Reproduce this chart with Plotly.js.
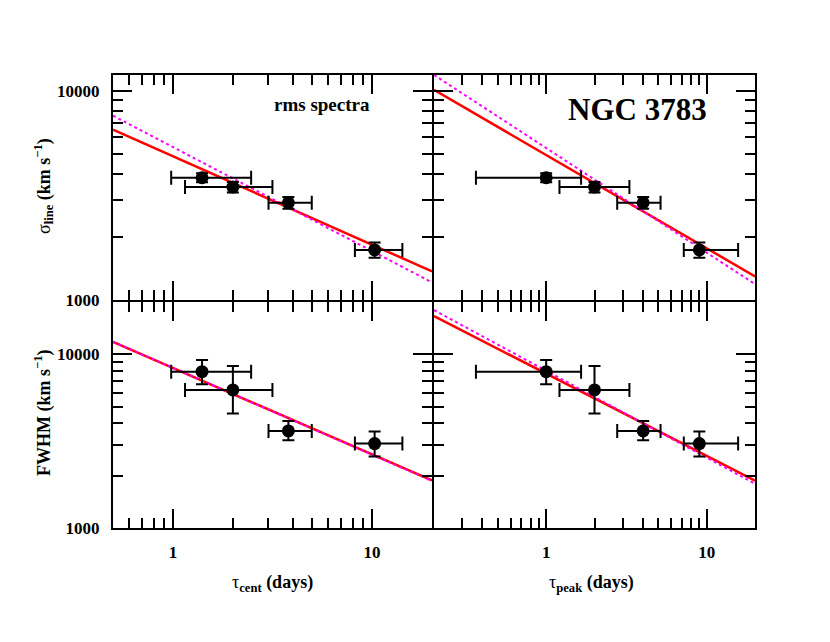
<!DOCTYPE html>
<html>
<head>
<meta charset="utf-8">
<script src="https://cdn.plot.ly/plotly-3.0.1.min.js"></script>
<style>html,body{margin:0;padding:0;background:#fff;}#chart{width:830px;height:642px;}</style>
</head>
<body>
<div id="chart"></div>
<script>
// ---- data ----
const tauCent      = [1.40, 2.00, 3.80, 10.3];
const tauCentErrLo = [0.42, 0.85, 0.78, 2.1];
const tauCentErrHi = [1.07, 1.16, 1.18, 3.9];
const tauPeak      = [1.00, 2.00, 4.02, 9.0];
const tauPeakErrLo = [0.635, 0.79, 1.25, 1.8];
const tauPeakErrHi = [0.65, 1.30, 1.14, 6.7];
const sigmaLine    = [3840, 3465, 2917, 1736];
const sigmaErr     = [190, 200, 190, 145];
const fwhm         = [7943, 6237, 3622, 3062];
const fwhmErrHi    = [1330, 2330, 515, 530];
const fwhmErrLo    = [1220, 1680, 418, 483];

// fit lines (endpoints at axis limits)
const fitXCent = [0.5, 20];
const fitXPeak = [0.2, 20];
const sigCentFit      = [6516, 1370];
const sigCentVirial   = [7600, 1214];
const sigPeakFit      = [10100, 1297];
const sigPeakVirial   = [11910, 1191];
const fwhmCentFit     = [11770, 1880];
const fwhmCentVirial  = [11800, 1866];
const fwhmPeakFit     = [16600, 1871];
const fwhmPeakVirial  = [17970, 1797];

// tick values
const xMajor = [1, 10];
const xMinor = [0.2,0.3,0.4,0.5,0.6,0.7,0.8,0.9,2,3,4,5,6,7,8,9,20];
const yMajor = [1000, 10000];
const yMinor = [2000,3000,4000,5000,6000,7000,8000,9000,20000];
const xTickText = ['1', '10'];
const yTickText = ['1000', '10000'];

const FONT = 'Liberation Serif, Times New Roman, serif';

function pts(x, xlo, xhi, y, ylo, yhi, xa, ya) {
  return {
    x: x, y: y, xaxis: xa, yaxis: ya, type: 'scatter', mode: 'markers',
    marker: {color: 'black', size: 13},
    error_x: {type: 'data', array: xhi, arrayminus: xlo, color: 'black', thickness: 2, width: 7},
    error_y: {type: 'data', array: yhi, arrayminus: ylo, color: 'black', thickness: 2, width: 6},
    showlegend: false, hoverinfo: 'skip'
  };
}
function line(x, y, xa, ya, color, dash, w) {
  return {x: x, y: y, xaxis: xa, yaxis: ya, type: 'scatter', mode: 'lines',
    line: {color: color, dash: dash, width: w}, showlegend: false, hoverinfo: 'skip'};
}

const data = [
  line(fitXCent, sigCentFit, 'x', 'y', '#ff0000', 'solid', 2.5),
  line(fitXCent, sigCentVirial, 'x', 'y', '#ff00ff', 'dot', 2),
  pts(tauCent, tauCentErrLo, tauCentErrHi, sigmaLine, sigmaErr, sigmaErr, 'x', 'y'),

  line(fitXPeak, sigPeakFit, 'x2', 'y2', '#ff0000', 'solid', 2.5),
  line(fitXPeak, sigPeakVirial, 'x2', 'y2', '#ff00ff', 'dot', 2),
  pts(tauPeak, tauPeakErrLo, tauPeakErrHi, sigmaLine, sigmaErr, sigmaErr, 'x2', 'y2'),

  line(fitXCent, fwhmCentFit, 'x3', 'y3', '#ff0000', 'solid', 2.5),
  line(fitXCent, fwhmCentVirial, 'x3', 'y3', '#ff00ff', 'dot', 2),
  pts(tauCent, tauCentErrLo, tauCentErrHi, fwhm, fwhmErrLo, fwhmErrHi, 'x3', 'y3'),

  line(fitXPeak, fwhmPeakFit, 'x4', 'y4', '#ff0000', 'solid', 2.5),
  line(fitXPeak, fwhmPeakVirial, 'x4', 'y4', '#ff00ff', 'dot', 2),
  pts(tauPeak, tauPeakErrLo, tauPeakErrHi, fwhm, fwhmErrLo, fwhmErrHi, 'x4', 'y4')
];

const tickFont = {family: FONT, size: 17, color: 'black', weight: 'bold'};

function xax(domain, lo, hi, anchor, labels) {
  return {
    type: 'log', domain: domain, range: [Math.log10(lo), Math.log10(hi)], anchor: anchor,
    showline: true, linecolor: 'black', linewidth: 2, mirror: 'ticks',
    ticks: 'inside', ticklen: 19, tickwidth: 2, tickcolor: 'black',
    tickmode: 'array', tickvals: xMajor, ticktext: xTickText,
    showticklabels: labels, tickfont: tickFont, ticklabelstandoff: 8,
    minor: {tickmode: 'array', tickvals: xMinor, ticks: 'inside', ticklen: 10, tickwidth: 2, tickcolor: 'black', showgrid: false},
    showgrid: false, zeroline: false, fixedrange: true
  };
}
function yax(domain, lo, hi, anchor, labels) {
  return {
    type: 'log', domain: domain, range: [Math.log10(lo), Math.log10(hi)], anchor: anchor,
    showline: true, linecolor: 'black', linewidth: 2, mirror: 'ticks',
    ticks: 'inside', ticklen: 19, tickwidth: 2, tickcolor: 'black',
    tickmode: 'array', tickvals: yMajor, ticktext: yTickText,
    showticklabels: labels, tickfont: tickFont, ticklabelstandoff: 8,
    minor: {tickmode: 'array', tickvals: yMinor, ticks: 'inside', ticklen: 10, tickwidth: 2, tickcolor: 'black', showgrid: false},
    showgrid: false, zeroline: false, fixedrange: true
  };
}

// plot area: x 113..755, y 75..528 (panel borders meet at x=433, y=301)
const PW = 642, PH = 453;
const xL = [0, (432 - 113) / PW], xR = [(434 - 113) / PW, 1];
const yT = [(528 - 300) / PH, 1], yB = [0, (528 - 302) / PH];

const layout = {
  width: 830, height: 642,
  margin: {l: 113, r: 75, t: 75, b: 114},
  paper_bgcolor: 'white', plot_bgcolor: 'white',
  font: {family: FONT, color: 'black'},
  xaxis:  xax(xL, 0.5, 20, 'y', false),
  yaxis:  yax(yT, 1000, 11900, 'x', true),
  xaxis2: xax(xR, 0.2, 20, 'y2', false),
  yaxis2: yax(yT, 1000, 11900, 'x2', false),
  xaxis3: xax(xL, 0.5, 20, 'y3', true),
  yaxis3: yax(yB, 1000, 20000, 'x3', true),
  xaxis4: xax(xR, 0.2, 20, 'y4', true),
  yaxis4: yax(yB, 1000, 20000, 'x4', false),
  annotations: [
    {text: '<b>rms spectra</b>', xref: 'paper', yref: 'paper', x: (322 - 113) / PW, y: (528 - 104) / PH,
     xanchor: 'center', yanchor: 'middle', showarrow: false, font: {family: FONT, size: 19, color: 'black'}},
    {text: '<b>NGC 3783</b>', xref: 'paper', yref: 'paper', x: (637 - 113) / PW, y: (528 - 109) / PH,
     xanchor: 'center', yanchor: 'middle', showarrow: false, font: {family: FONT, size: 31, color: 'black'}},
    {text: 'σ<sub><b>line</b></sub><b> (km s<sup>−1</sup>)</b>', xref: 'paper', yref: 'paper',
     x: (43 - 113) / PW, y: (528 - 186) / PH, xanchor: 'center', yanchor: 'middle', textangle: -90,
     showarrow: false, font: {family: FONT, size: 18, color: 'black'}},
    {text: '<b>FWHM (km s<sup>−1</sup>)</b>', xref: 'paper', yref: 'paper',
     x: (43 - 113) / PW, y: (528 - 413) / PH, xanchor: 'center', yanchor: 'middle', textangle: -90,
     showarrow: false, font: {family: FONT, size: 18, color: 'black'}},
    {text: 'τ<sub><b>cent</b></sub><b> (days)</b>', xref: 'paper', yref: 'paper',
     x: (272 - 113) / PW, y: (528 - 583) / PH, xanchor: 'center', yanchor: 'middle',
     showarrow: false, font: {family: FONT, size: 18, color: 'black'}},
    {text: 'τ<sub><b>peak</b></sub><b> (days)</b>', xref: 'paper', yref: 'paper',
     x: (591 - 113) / PW, y: (528 - 583) / PH, xanchor: 'center', yanchor: 'middle',
     showarrow: false, font: {family: FONT, size: 18, color: 'black'}}
  ]
};

Plotly.newPlot('chart', data, layout, {staticPlot: true, displayModeBar: false});
</script>
</body>
</html>
